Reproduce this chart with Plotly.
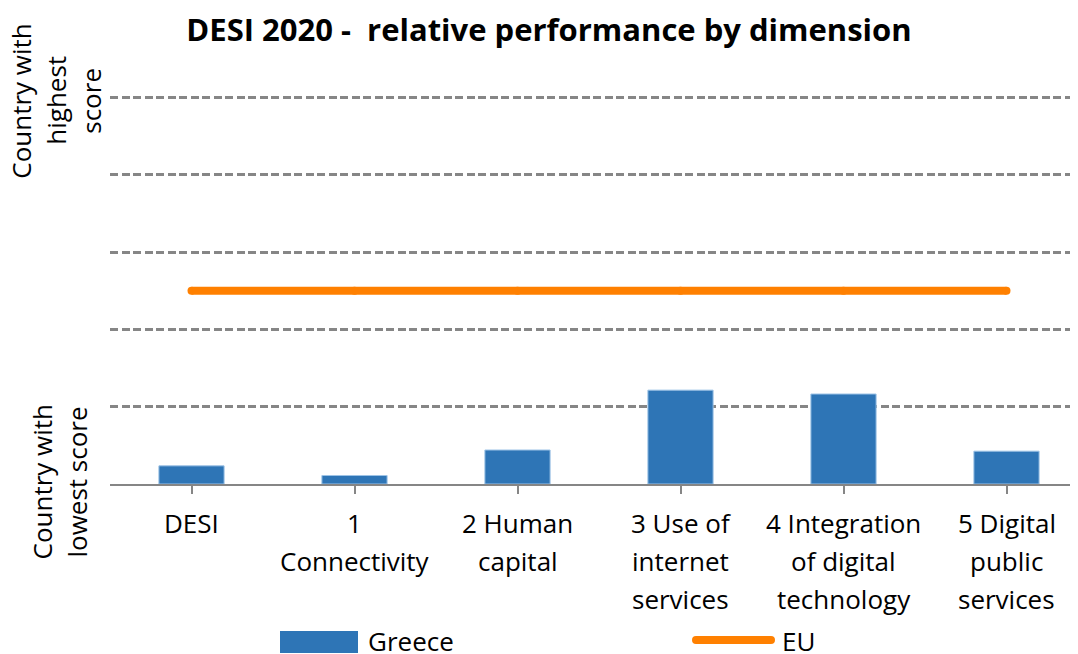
import plotly.graph_objects as go

# ---- data ----
categories = ["DESI", "1\nConnectivity", "2 Human\ncapital", "3 Use of\ninternet\nservices",
              "4 Integration\nof digital\ntechnology", "5 Digital\npublic\nservices"]
greece = [4.7, 2.2, 8.8, 24.3, 23.3, 8.5]
eu = [50, 50, 50, 50, 50, 50]
y_top_label = "Country with\nhighest\nscore"
y_bottom_label = "Country with\nlowest score"
title_text = "DESI 2020 - \u00a0relative performance by dimension"
series_names = ["Greece", "EU"]

W, H = 1078, 654
OFF = 8  # page body margin
SCALE = 77.25 / 20.0  # px per unit
YMAX = 102
L, R_EDGE, B = 110, 1078, 484  # page coords of plot area
T = B - YMAX * SCALE
PW, PH = R_EDGE - L, B - T
FONT = "'Open Sans', sans-serif"
GRAY = "#868686"
BLUE = "#2E75B6"
ORANGE = "#FF8000"
FS = 26

def px(X):
    return (X - L) / PW

def py(Y):
    return (B - Y) / PH

xs = list(range(len(categories)))

fig = go.Figure()
fig.add_trace(go.Bar(x=xs, y=greece, name=series_names[0], width=0.4,
                     marker=dict(color=BLUE, line=dict(color="#9DC3E6", width=1)),
                     showlegend=False))
fig.add_trace(go.Scatter(x=xs, y=eu, name=series_names[1], mode="lines+markers",
                         line=dict(color=ORANGE, width=8),
                         marker=dict(color=ORANGE, size=8, line=dict(width=0)),
                         showlegend=False))

annotations = []
for i, lab in enumerate(categories):
    for k, line in enumerate(lab.split("\n")):
        annotations.append(dict(x=i, y=0, xref="x", yref="y", text=line, showarrow=False,
                                xanchor="center", yanchor="middle", yshift=-(39 + 38 * k),
                                font=dict(family=FONT, size=FS, color="black")))

def ylabel(text, yval, center_x, spacing, ycenter_shift=0):
    lines = text.split("\n")
    n = len(lines)
    for k, line in enumerate(lines):
        X = center_x + (k - (n - 1) / 2) * spacing
        annotations.append(dict(x=px(X), y=yval, xref="paper", yref="y", text=line,
                                showarrow=False, textangle=-90, xanchor="center",
                                yanchor="middle", yshift=ycenter_shift,
                                font=dict(family=FONT, size=FS, color="black")))

ylabel(y_top_label, 100, 56, 35, -3)
ylabel(y_bottom_label, 0, 59, 35, 2)

annotations.append(dict(x=px(366), y=py(641), xref="paper", yref="paper", text=series_names[0],
                        showarrow=False, xanchor="left", yanchor="middle",
                        font=dict(family=FONT, size=FS, color="black")))
annotations.append(dict(x=px(780), y=py(641), xref="paper", yref="paper", text=series_names[1],
                        showarrow=False, xanchor="left", yanchor="middle",
                        font=dict(family=FONT, size=FS, color="black")))

shapes = [
    dict(type="rect", xref="paper", yref="paper", x0=px(280), x1=px(358), y0=py(653), y1=py(631),
         fillcolor=BLUE, line=dict(width=0)),
    dict(type="rect", xref="paper", yref="paper", x0=px(696), x1=px(771), y0=py(644), y1=py(636),
         fillcolor=ORANGE, line=dict(width=0)),
    dict(type="circle", xref="paper", yref="paper", x0=px(692), x1=px(700), y0=py(644), y1=py(636),
         fillcolor=ORANGE, line=dict(width=0)),
    dict(type="circle", xref="paper", yref="paper", x0=px(767), x1=px(775), y0=py(644), y1=py(636),
         fillcolor=ORANGE, line=dict(width=0)),
]

fig.update_layout(
    width=W, height=H,
    margin=dict(l=L - OFF, r=W - (R_EDGE - OFF), t=T - OFF, b=H - (B - OFF), pad=0),
    paper_bgcolor="white", plot_bgcolor="white",
    title=dict(text="<b>" + title_text + "</b>", x=(549 - OFF) / W, xref="container",
               xanchor="center", y=1 - (30 - OFF) / H, yref="container", yanchor="middle",
               font=dict(family=FONT, size=31, color="black")),
    xaxis=dict(range=[-0.5, -0.5 + PW / 163.0], tickvals=xs, showticklabels=False,
               tickson="boundaries", ticks="outside", ticklen=8, tickwidth=2, tickcolor=GRAY,
               showline=True, linecolor=GRAY, linewidth=2, showgrid=False, zeroline=False),
    yaxis=dict(range=[0, YMAX], tickvals=[20, 40, 60, 80, 100], showticklabels=False,
               showgrid=True, gridcolor=GRAY, gridwidth=2.5, griddash="8px,3.5px",
               zeroline=False, showline=False, ticks=""),
    annotations=annotations,
    shapes=shapes,
    showlegend=False,
)

fig.write_html("out.html")
